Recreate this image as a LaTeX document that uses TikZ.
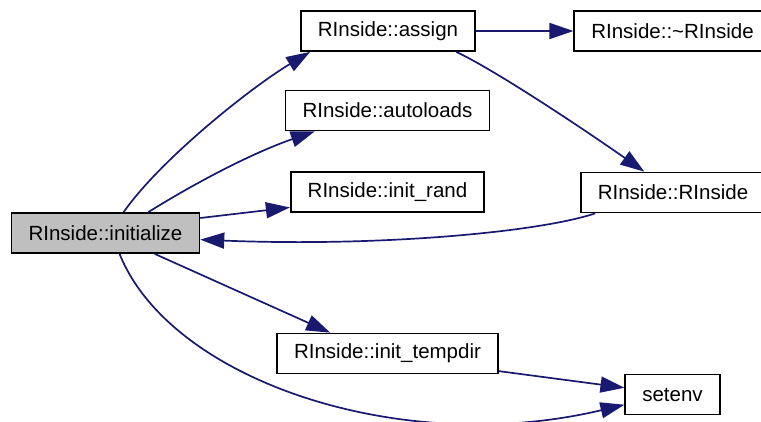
\documentclass[tikz,border=0pt]{standalone}
\usepackage{fontspec}
\setmainfont{Liberation Sans}
\usepackage{tikz}
\usetikzlibrary{arrows.meta}
\definecolor{edgeblue}{HTML}{191970}
\definecolor{fngray}{HTML}{BFBFBF}

\begin{document}
\begin{tikzpicture}[x=1pt,y=-1pt, font=\fontsize{20.5}{24}\selectfont,
  fn/.style={draw=black, line width=1.7pt, fill=white, minimum height=40pt, inner xsep=17pt, inner ysep=0pt},
  call/.style={draw=edgeblue, line width=1.7pt, -{Triangle[length=24pt,width=16pt]}}]
\useasboundingbox (0,0) rectangle (761,421);
\node[fn, fill=fngray] (init) at (105.5,233) {RInside::initialize};
\node[fn] (assign) at (388,31) {RInside::assign};
\node[fn] (dtor) at (672.5,31) {RInside::\textasciitilde RInside};
\node[fn] (autoloads) at (387.5,110.5) {RInside::autoloads};
\node[fn] (initrand) at (387.5,192) {RInside::init\_rand};
\node[fn] (ctor) at (673,192.5) {RInside::RInside};
\node[fn] (tempdir) at (387.5,353.5) {RInside::init\_tempdir};
\node[fn] (setenv) at (672.5,394.5) {setenv};
\draw[call] (init.49) .. controls (160,160) and (250,88) .. (assign.195);
\draw[call] (init.26) .. controls (200,180) and (255,152) .. (autoloads.196);
\draw[call] (init.9) -- (initrand.189);
\draw[call] (ctor.195) .. controls (540,232) and (380,247) .. (init.356);
\draw[call] (init.337) -- (tempdir.160);
\draw[call] (init.304) .. controls (170,380) and (400,458) .. (setenv.192);
\draw[call] (assign.east) -- (dtor.west);
\draw[call] (assign.343) .. controls (495,70) and (585,130) .. (ctor.144);
\draw[call] (tempdir.351.5) -- (setenv.172.5);
\end{tikzpicture}
\end{document}
